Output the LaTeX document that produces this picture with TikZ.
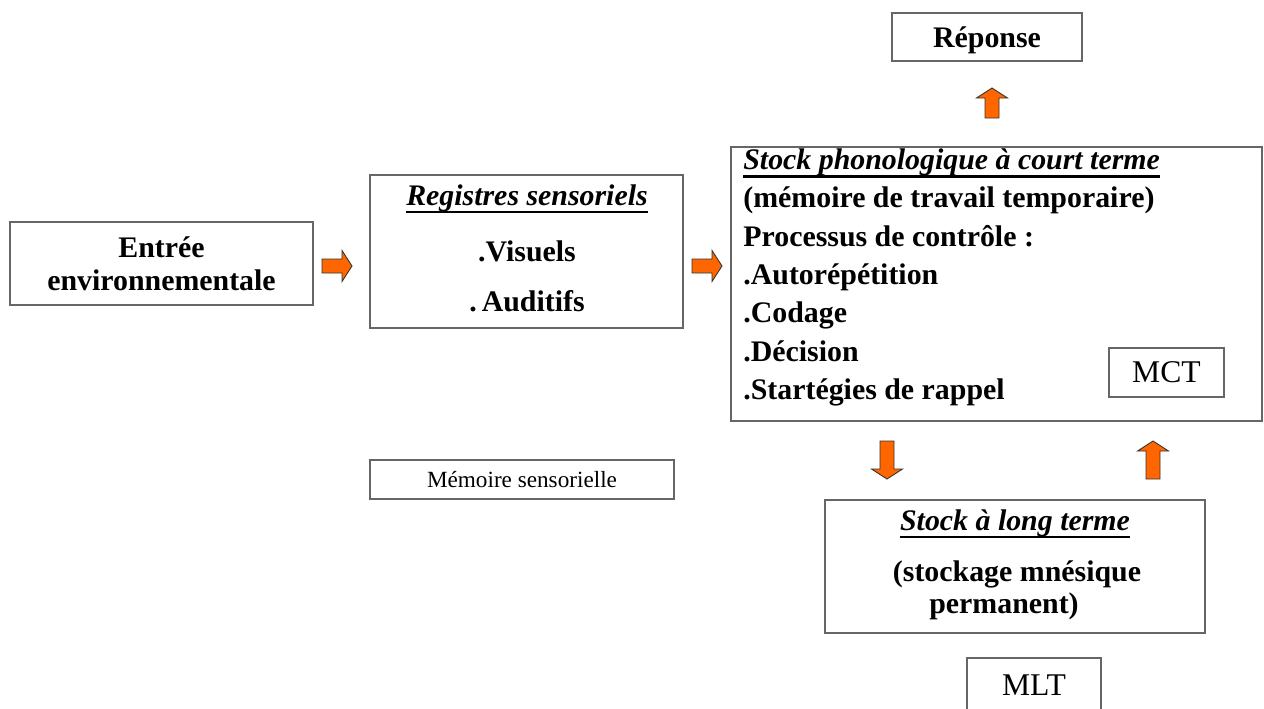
\documentclass[tikz,border=0pt]{standalone}
\usepackage{fontspec}
\setmainfont{Liberation Serif}

\definecolor{arrorange}{HTML}{FF6600}
\definecolor{boxgray}{HTML}{666666}
\newcommand{\bigbf}{\fontsize{17}{18.7}\selectfont\bfseries}
\newcommand{\bigrm}{\fontsize{18}{20}\selectfont}
\newcommand{\souligne}[1]{\setbox0\hbox{#1}\rlap{\vrule height -3.4pt depth 4.6pt width \wd0}\box0}

\tikzset{
  box/.style={draw=boxgray, line width=0.8pt, inner sep=0pt, fill=white},
  lbl/.style={font=\bigbf, anchor=base, inner sep=0pt},
  pics/blockarr/.style={code={
    \draw[fill=arrorange, draw=black!80, line width=0.5pt, line join=miter]
      (-#1,-7) -- (#1-10,-7) -- (#1-10,-15.5) -- (#1,0)
      -- (#1-10,15.5) -- (#1-10,7) -- (-#1,7) -- cycle;}}
}

\begin{document}
\begin{tikzpicture}[x=0.02cm, y=-0.02cm]
  \useasboundingbox (0,0) rectangle (1264,708);

  % entree
  \node[box, minimum width=6.06cm, minimum height=1.66cm, align=center, font=\bigbf]
    (entree) at (161.5,263.5) {Entrée\\environnementale};

  % registres sensoriels
  \node[box, minimum width=6.26cm, minimum height=3.06cm] (registres) at (526.5,251.5) {};
  \node[lbl] (regtitre) at (527,205) {\souligne{\textit{Registres sensoriels}}};
  \node[lbl] (visuels) at (527,261) {.Visuels};
  \node[lbl] (auditifs) at (527,311) {.\,Auditifs};

  % memoire a court terme
  \node[box, minimum width=10.62cm, minimum height=5.48cm] (stm) at (996.5,284) {};
  \foreach \ligne [count=\i] in {{\souligne{\textit{Stock phonologique à court terme}}},
      {(mémoire de travail temporaire)}, {Processus de contrôle :}, {.Autorépétition},
      {.Codage}, {.Décision}, {.Startégies de rappel}}
    \node[lbl, anchor=base west] (stm\i) at (743, {169.5+38.3*(\i-1)}) {\ligne};
  \node[box, minimum width=2.3cm, minimum height=0.98cm, font=\bigrm] (mct) at (1166.5,372.5) {MCT};

  % reponse
  \node[box, minimum width=3.8cm, minimum height=0.96cm, text depth=0pt, font=\bigbf]
    (reponse) at (987,37) {Réponse};

  % memoire sensorielle
  \node[box, minimum width=6.08cm, minimum height=0.78cm, font=\fontsize{13.2}{15}\selectfont]
    (memsens) at (522,479.5) {Mémoire sensorielle};

  % memoire a long terme
  \node[box, minimum width=7.6cm, minimum height=2.66cm] (ltm) at (1015,566.5) {};
  \node[lbl] (ltmtitre) at (1015,530) {\souligne{\textit{Stock à long terme}}};
  \node[lbl] (ltm1) at (1017,581) {(stockage mnésique};
  \node[lbl] (ltm2) at (1004,613) {permanent)};
  \node[box, minimum width=2.68cm, minimum height=1.08cm, font=\bigrm] (mlt) at (1034,685) {MLT};

  % fleches
  \pic at (337,266) {blockarr=15};
  \pic at (707,266) {blockarr=15};
  \pic[rotate=90] at (992,103) {blockarr=15};
  \pic[rotate=-90] at (887,460) {blockarr=19};
  \pic[rotate=90] at (1153,460) {blockarr=19};
\end{tikzpicture}
\end{document}
